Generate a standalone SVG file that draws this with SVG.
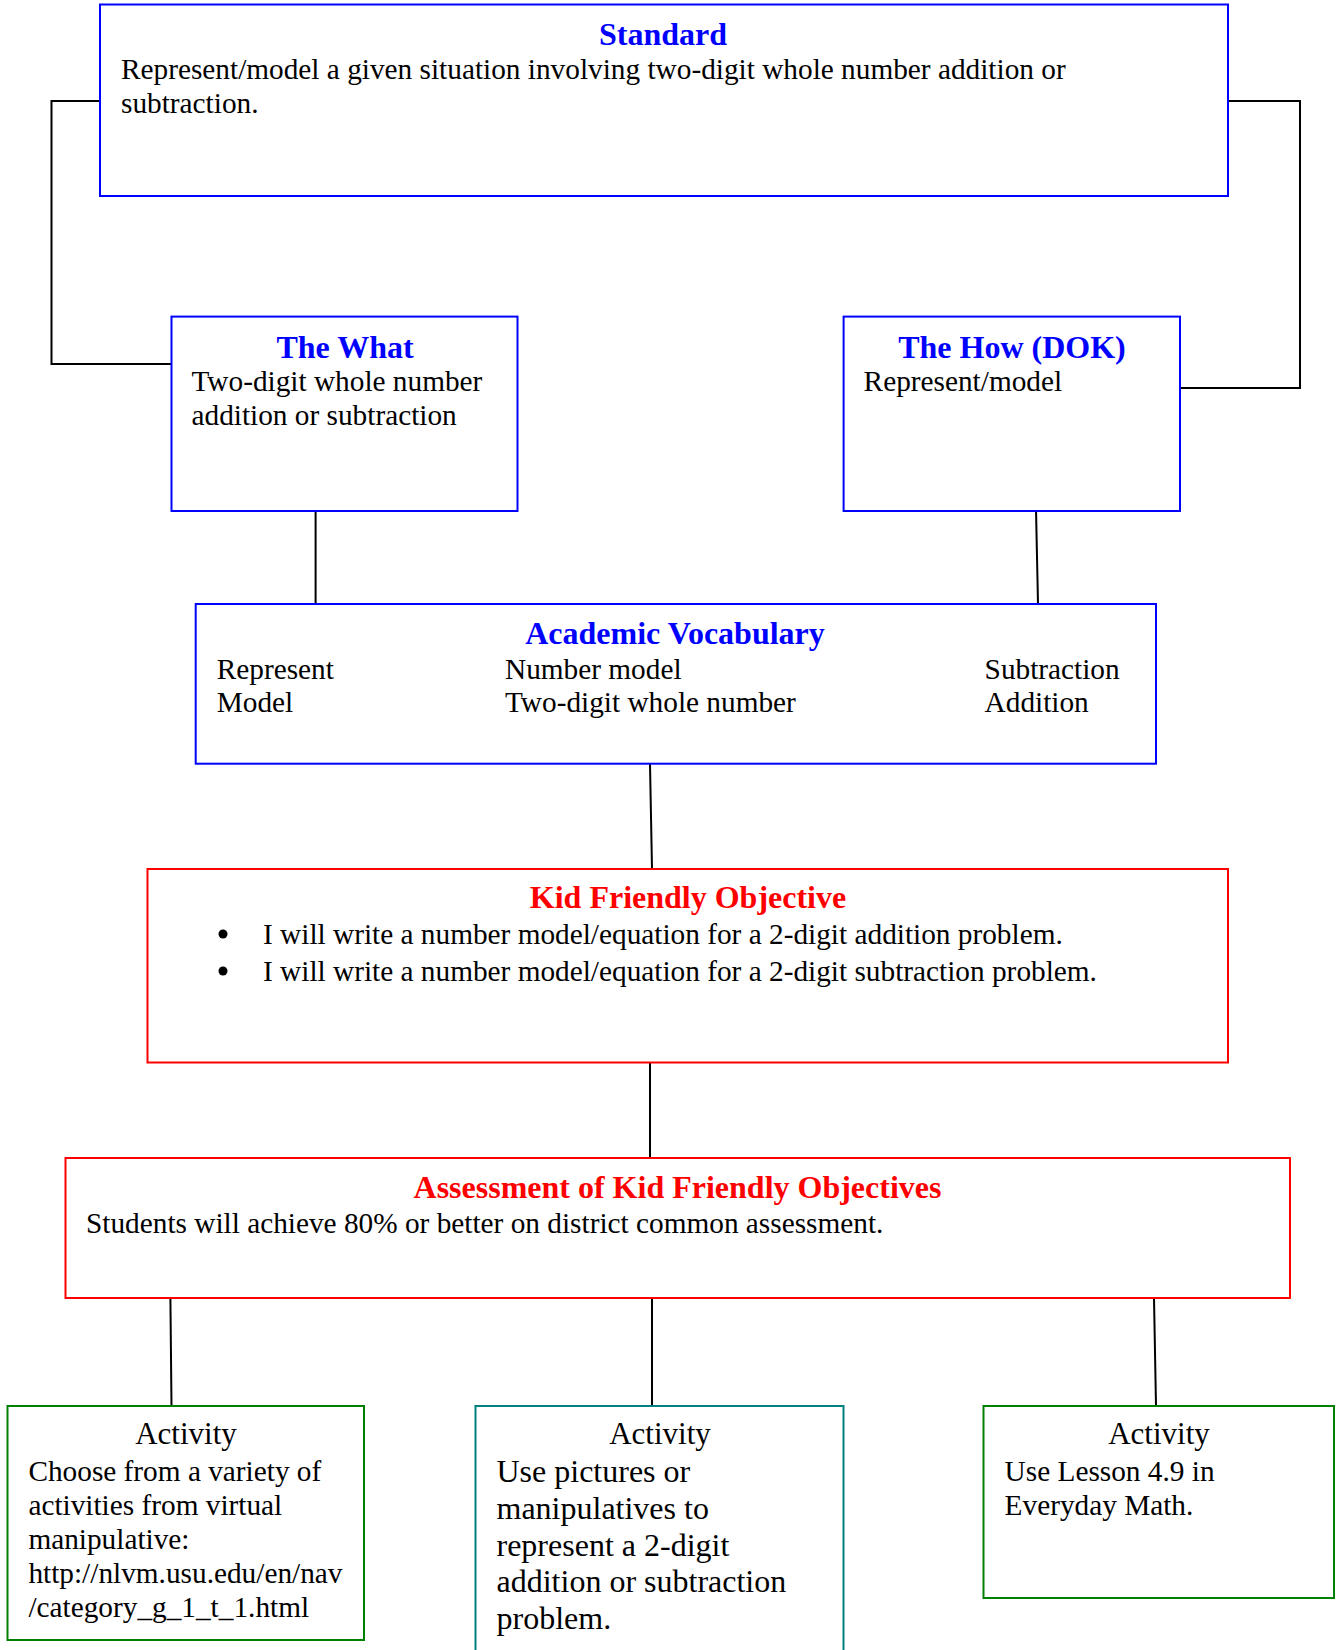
<svg xmlns="http://www.w3.org/2000/svg" width="1338" height="1650" viewBox="0 0 1338 1650">
<style>
.box{fill:#fff;stroke-width:2}
.blue{stroke:#0000FF}
.red{stroke:#FF0000}
.green{stroke:#008000}
.teal{stroke:#008080}
text{font-family:"Liberation Serif","Times New Roman",serif;fill:#000}
.t{font-size:29.3px}
.t2{font-size:32px}
.h{font-size:32px;font-weight:bold;text-anchor:middle}
.hb{fill:#0000FF}
.hr{fill:#FF0000}
.a{font-size:31px;text-anchor:middle}
.conn{fill:none;stroke:#000;stroke-width:2}
</style>
<rect width="1338" height="1650" fill="#fff"/>
<g id="connectors">
<polyline class="conn" points="100,101 51.5,101 51.5,364 171.5,364"/>
<polyline class="conn" points="1228,101 1300,101 1300,388 1180,388"/>
<line class="conn" x1="315.6" y1="509" x2="315.6" y2="604"/>
<line class="conn" x1="1036" y1="509" x2="1038" y2="604"/>
<line class="conn" x1="650" y1="764" x2="652" y2="869"/>
<line class="conn" x1="650" y1="1062" x2="650" y2="1158"/>
<line class="conn" x1="170.4" y1="1298" x2="171.5" y2="1406"/>
<line class="conn" x1="652" y1="1298" x2="652" y2="1406"/>
<line class="conn" x1="1154" y1="1298" x2="1156" y2="1406"/>
</g>
<g id="standard">
<rect class="box blue" x="100" y="4.5" width="1128" height="191.5"/>
<text class="h hb" x="663" y="45">Standard</text>
<text class="t" x="121" y="79">Represent/model a given situation involving two-digit whole number addition or</text>
<text class="t" x="121" y="112.5">subtraction.</text>
</g>
<g id="what">
<rect class="box blue" x="171.5" y="316.6" width="346" height="194.4"/>
<text class="h hb" x="345" y="358">The What</text>
<text class="t" x="191.5" y="391">Two-digit whole number</text>
<text class="t" x="191.5" y="425">addition or subtraction</text>
</g>
<g id="how">
<rect class="box blue" x="843.6" y="316.6" width="336.4" height="194.4"/>
<text class="h hb" x="1012" y="358">The How (DOK)</text>
<text class="t" x="863.6" y="391">Represent/model</text>
</g>
<g id="vocab">
<rect class="box blue" x="195.7" y="604" width="960.3" height="159.7"/>
<text class="h hb" x="675" y="644">Academic Vocabulary</text>
<text class="t" x="216.7" y="678.5">Represent</text>
<text class="t" x="216.7" y="712">Model</text>
<text class="t" x="505" y="678.5">Number model</text>
<text class="t" x="505" y="712">Two-digit whole number</text>
<text class="t" x="984.6" y="678.5">Subtraction</text>
<text class="t" x="984.6" y="712">Addition</text>
</g>
<g id="kfo">
<rect class="box red" x="147.5" y="869" width="1080.5" height="193.5"/>
<text class="h hr" x="688" y="908">Kid Friendly Objective</text>
<circle cx="223" cy="934" r="4.5" fill="#000"/>
<circle cx="223" cy="971" r="4.5" fill="#000"/>
<text class="t" x="263" y="943.5">I will write a number model/equation for a 2-digit addition problem.</text>
<text class="t" x="263" y="980.5">I will write a number model/equation for a 2-digit subtraction problem.</text>
</g>
<g id="assessment">
<rect class="box red" x="65.5" y="1158" width="1224.5" height="140"/>
<text class="h hr" x="677.5" y="1198">Assessment of Kid Friendly Objectives</text>
<text class="t" x="86" y="1233">Students will achieve 80% or better on district common assessment.</text>
</g>
<g id="activity1">
<rect class="box green" x="7.5" y="1406" width="356.5" height="234"/>
<text class="a" x="186" y="1444">Activity</text>
<text class="t" x="28.4" y="1480.5">Choose from a variety of</text>
<text class="t" x="28.4" y="1515">activities from virtual</text>
<text class="t" x="28.4" y="1549">manipulative:</text>
<text class="t" x="28.4" y="1582.5">http://nlvm.usu.edu/en/nav</text>
<text class="t" x="28.4" y="1616.5">/category_g_1_t_1.html</text>
</g>
<g id="activity2">
<rect class="box teal" x="475.5" y="1406" width="368" height="260"/>
<text class="a" x="660" y="1444">Activity</text>
<text class="t2" x="496.5" y="1481.5">Use pictures or</text>
<text class="t2" x="496.5" y="1518.5">manipulatives to</text>
<text class="t2" x="496.5" y="1555.5">represent a 2-digit</text>
<text class="t2" x="496.5" y="1592">addition or subtraction</text>
<text class="t2" x="496.5" y="1629">problem.</text>
</g>
<g id="activity3">
<rect class="box green" x="983.5" y="1406" width="350.5" height="192"/>
<text class="a" x="1159" y="1444">Activity</text>
<text class="t" x="1004.6" y="1480.5">Use Lesson 4.9 in</text>
<text class="t" x="1004.6" y="1515">Everyday Math.</text>
</g>
</svg>
